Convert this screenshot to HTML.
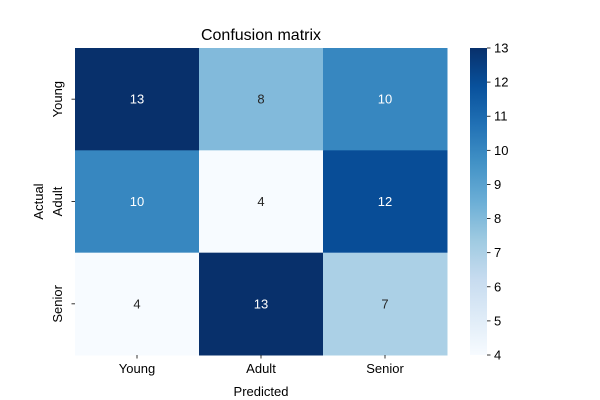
<!DOCTYPE html>
<html><head><meta charset="utf-8"><style>
body{margin:0;background:#fff}
svg{display:block;font-family:"Liberation Sans","DejaVu Sans",sans-serif}
</style></head><body>
<svg id="c" width="600" height="400"></svg>
<script>
const rowLabels=["Young","Adult","Senior"];
const colLabels=["Young","Adult","Senior"];
const row0=[13,8,10];
const row1=[10,4,12];
const row2=[4,13,7];
const cbTicks=[4,5,6,7,8,9,10,11,12,13];
const values=[row0,row1,row2];
const vmin=4,vmax=13;
const L=75,R=447,T=48,B=355;
const cw=(R-L)/3,ch=(B-T)/3;
const blues=["#f7fbff","#deebf7","#c6dbef","#9ecae1","#6baed6","#4292c6","#2171b5","#08519c","#08306b"];
function hex(h){return [1,3,5].map(i=>parseInt(h.substr(i,2),16));}
function color(v){let t=(v-vmin)/(vmax-vmin);t=Math.max(0,Math.min(1,t))*(blues.length-1);
 const i=Math.min(Math.floor(t),blues.length-2),f=t-i;const a=hex(blues[i]),b=hex(blues[i+1]);
 return "rgb("+a.map((x,k)=>Math.round(x+(b[k]-x)*f)).join(",")+")";}
const NS="http://www.w3.org/2000/svg";const svg=document.getElementById("c");
function el(tag,attrs,txt){const e=document.createElementNS(NS,tag);for(const k in attrs)e.setAttribute(k,attrs[k]);if(txt!=null)e.textContent=txt;svg.appendChild(e);return e;}
values.forEach((row,r)=>row.forEach((v,c)=>{
 const x=L+c*cw,y=T+r*ch;
 const rc=el("rect",{x:x,y:y,width:cw+0.5,height:ch+0.5,fill:color(v)});
 
 
 const t=el("text",{x:x+cw/2,y:y+ch/2+4.5,"text-anchor":"middle","font-size":13,fill:(v-vmin)/(vmax-vmin)>0.5?"#fff":"#262626"},v);
 
 
}));
colLabels.forEach((s,i)=>{const x=L+(i+0.5)*cw;
 el("line",{x1:x,x2:x,y1:B,y2:B+3.5,stroke:"#000","stroke-width":0.8});
 const t=el("text",{x:x,y:B+18,"text-anchor":"middle","font-size":13},s);
 
 });
rowLabels.forEach((s,i)=>{const y=T+(i+0.5)*ch;
 el("line",{x1:L,x2:L-3.5,y1:y,y2:y,stroke:"#000","stroke-width":0.8});
 const t=el("text",{x:0,y:0,"text-anchor":"middle","font-size":13,transform:`translate(${L-13},${y}) rotate(-90)`},s);
 
 });
const xt=el("text",{x:(L+R)/2,y:396,"text-anchor":"middle","font-size":13},"Predicted");


const yt=el("text",{x:0,y:0,"text-anchor":"middle","font-size":13,transform:`translate(43,${(T+B)/2}) rotate(-90)`},"Actual");


const tt=el("text",{x:(L+R)/2,y:40,"text-anchor":"middle","font-size":16},"Confusion matrix");


const cbL=470,cbR=487;
const defs=el("defs",{});const g=document.createElementNS(NS,"linearGradient");
g.setAttribute("id","gb");g.setAttribute("x1","0");g.setAttribute("y1","1");g.setAttribute("x2","0");g.setAttribute("y2","0");
blues.forEach((c,i)=>{const s=document.createElementNS(NS,"stop");s.setAttribute("offset",i/(blues.length-1));s.setAttribute("stop-color",c);g.appendChild(s);});
defs.appendChild(g);
const cb=el("rect",{x:cbL,y:T,width:cbR-cbL,height:B-T,fill:"url(#gb)"});


cbTicks.forEach(v=>{const y=B-(v-vmin)/(vmax-vmin)*(B-T);
 el("line",{x1:cbR,x2:cbR+3.5,y1:y,y2:y,stroke:"#000","stroke-width":0.8});
 const t=el("text",{x:cbR+7,y:y+4.5,"font-size":13},v);
 
 });
</script>
</body></html>
